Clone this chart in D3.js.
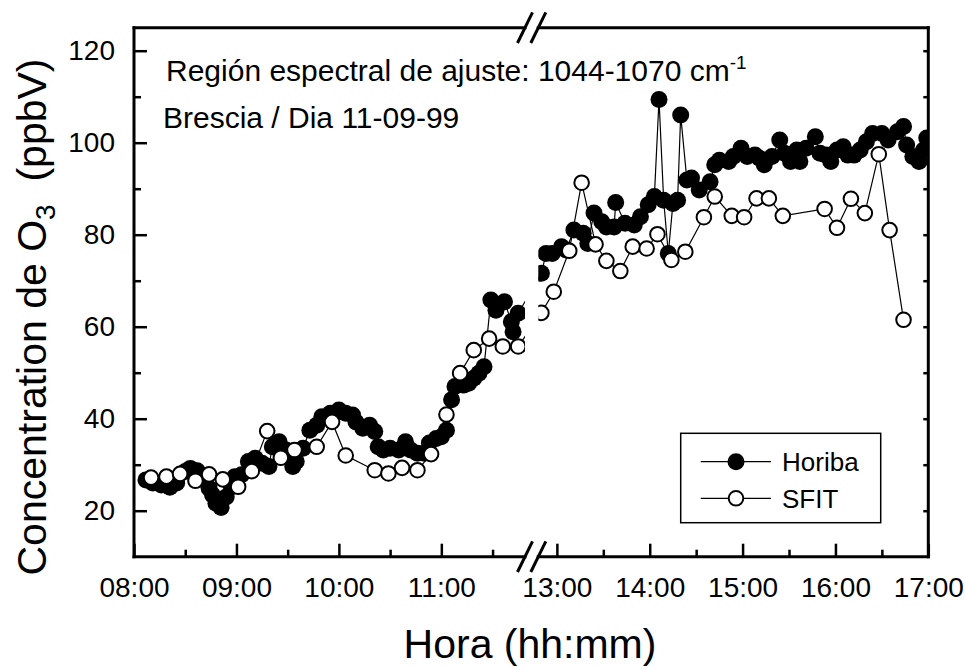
<!DOCTYPE html>
<html><head><meta charset="utf-8">
<script src="https://cdn.jsdelivr.net/npm/d3@7/dist/d3.min.js"></script>
<style>
body{margin:0;background:#fff;}
text{font-family:"Liberation Sans",Arial,sans-serif;fill:#000;}
</style></head><body>
<svg id="chart" width="966" height="667"></svg>
<script>
// Ozone at Brescia, 11-09-99: Horiba analyser vs. SFIT retrieval
const horibaTimes = ["08:07","08:11","08:16","08:21","08:25","08:30","08:33","08:37","08:41","08:44",
  "08:46","08:48","08:51","08:54","08:57","08:59","09:03","09:07","09:11","09:15",
  "09:19","09:21","09:25","09:29","09:33","09:35","09:39","09:43","09:47","09:50",
  "09:55","10:00","10:04","10:08","10:10","10:14","10:18","10:21","10:23","10:26",
  "10:30","10:35","10:39","10:42","10:46","10:50","10:53","10:57","11:00","11:03",
  "11:06","11:08","11:13","11:16","11:19","11:22","11:25","11:29","11:32","11:37",
  "11:41","11:42","11:45",
  "12:50","12:53","12:57","13:03","13:06","13:11","13:17","13:20","13:24","13:29",
  "13:32","13:37","13:38","13:44","13:50","13:54","13:59","14:03","14:06","14:09",
  "14:12","14:15","14:18","14:20","14:24","14:27","14:32","14:39","14:42","14:45",
  "14:51","14:54","14:59","15:03","15:08","15:11","15:14","15:19","15:24","15:27",
  "15:31","15:35","15:37","15:41","15:47","15:50","15:54","15:57","16:01","16:05",
  "16:08","16:12","16:16","16:20","16:24","16:30","16:34","16:40","16:44","16:46",
  "16:50","16:54","16:57","16:59"];
const horibaValues = [26.7,26.0,25.6,25.1,26.0,28.5,29.2,28.7,26.7,24.9,
  23.4,21.6,20.7,23.0,25.2,27.4,27.8,30.7,31.4,30.3,
  29.6,33.9,35.0,33.2,29.6,30.7,33.6,37.5,38.6,40.4,
  41.2,41.9,41.2,40.8,39.3,37.9,38.6,37.2,33.9,33.2,
  33.6,33.2,35.0,33.2,32.5,32.5,34.7,35.7,36.1,37.5,
  44.1,47.0,47.3,47.7,48.8,49.9,51.3,65.8,63.6,65.4,
  61.1,58.9,62.9,
  71.6,75.9,75.9,77.4,76.7,81.0,80.3,78.1,84.7,82.8,
  81.7,81.7,87.0,82.5,82.1,83.9,86.5,88.3,109.4,87.5,
  75.9,86.8,87.5,106.0,91.9,92.3,89.7,91.5,95.2,96.2,
  95.9,97.0,98.8,97.0,97.3,96.6,95.2,97.0,100.6,97.7,
  95.9,98.4,95.9,98.8,101.3,97.7,97.3,95.9,98.4,99.1,
  97.3,97.3,98.4,100.2,102.0,102.0,100.6,102.4,103.5,99.5,
  97.0,95.9,98.4,101.0];

const sfitTimes = ["08:10","08:19","08:27","08:36","08:44","08:52","09:01","09:09","09:18","09:26",
  "09:34","09:47","09:56","10:04","10:21","10:29","10:37","10:46","10:54","11:03",
  "11:11","11:19","11:28","11:36","11:45",
  "12:50","12:58","13:08","13:16","13:25","13:32","13:41","13:49","13:58","14:05",
  "14:14","14:23","14:35","14:42","14:53","15:01","15:09","15:17","15:26","15:53",
  "16:01","16:10","16:19","16:28","16:35","16:44"];
const sfitValues = [27.2,27.4,28.0,26.5,27.9,26.8,25.2,28.6,37.3,31.5,
  33.2,33.9,39.3,32.0,28.8,28.1,29.3,28.8,32.3,40.9,
  49.9,54.9,57.4,55.7,55.7,
  63.0,67.6,76.5,91.3,77.9,74.3,72.1,77.4,77.0,80.1,
  74.5,76.3,83.8,88.3,84.1,83.8,87.9,87.9,84.1,85.6,
  81.5,87.8,84.7,97.5,81.0,61.5];

// broken time axis: two linear pieces
const leftDomain = ["08:00","11:49"];
const rightDomain = ["12:48","17:00"];
const leftMajor = ["08:00","09:00","10:00","11:00"];
const leftMinor = ["08:30","09:30","10:30","11:30"];
const rightMajor = ["13:00","14:00","15:00","16:00","17:00"];
const rightMinor = ["13:30","14:30","15:30","16:30"];
const yMajor = [20,40,60,80,100,120];
const yMinor = [30,50,70,90,110];
const yDomain = [10,125];

const hrs = s => { const [h,m] = s.split(":").map(Number); return h + m/60; };

const svg = d3.select("#chart");
svg.append("rect").attr("width",966).attr("height",667).attr("fill","#fff");

const P = {left:134, right:928.3, top:27.7, bottom:556.7, gapL:525, gapR:538.3};

const xL = d3.scaleLinear().domain(leftDomain.map(hrs)).range([P.left, P.gapL]);
const xR = d3.scaleLinear().domain(rightDomain.map(hrs)).range([P.gapR, P.right]);
const split = (hrs(leftDomain[1]) + hrs(rightDomain[0])) / 2;
const xPos = t => t <= split ? xL(t) : xR(t);
const y = d3.scaleLinear().domain(yDomain).range([P.bottom, P.top]);

const defs = svg.append("defs");
defs.append("clipPath").attr("id","clipL").append("rect")
  .attr("x",P.left).attr("y",P.top).attr("width",P.gapL-P.left).attr("height",P.bottom-P.top);
defs.append("clipPath").attr("id","clipR").append("rect")
  .attr("x",P.gapR).attr("y",P.top).attr("width",P.right-P.gapR).attr("height",P.bottom-P.top);

const horiba = horibaTimes.map((t,i)=>({t:hrs(t), v:horibaValues[i]}));
const sfit = sfitTimes.map((t,i)=>({t:hrs(t), v:sfitValues[i]}));

const line = d3.line().x(d=>xPos(d.t)).y(d=>y(d.v));
const R_FILL = 8.5, R_OPEN = 7.3;

function drawSeries(data, filled){
  ["clipL","clipR"].forEach(c=>{
    const g = svg.append("g").attr("clip-path",`url(#${c})`);
    g.append("path").datum(data).attr("d",line)
      .attr("fill","none").attr("stroke","#000").attr("stroke-width",1.2);
    g.selectAll("circle").data(data).join("circle")
      .attr("cx",d=>xPos(d.t)).attr("cy",d=>y(d.v))
      .attr("r", filled ? R_FILL : R_OPEN)
      .attr("fill", filled ? "#000" : "#fff")
      .attr("stroke","#000").attr("stroke-width", filled ? 0 : 2);
  });
}
drawSeries(horiba, true);
drawSeries(sfit, false);

// axes (ticks point inward)
function tickAxis(axis, vals, size, pad, fmt){
  return axis.tickValues(vals).tickSizeInner(-size).tickSizeOuter(0).tickPadding(pad)
    .tickFormat(fmt);
}
const fmtT = t => { const h = Math.floor(t+1e-6), m = Math.round((t-h)*60); return String(h).padStart(2,"0")+":"+String(m).padStart(2,"0"); };
const gx = svg.append("g").attr("transform",`translate(0,${P.bottom})`);
gx.append("g").call(tickAxis(d3.axisBottom(xL), leftMajor.map(hrs), 13, 20, fmtT));
gx.append("g").call(tickAxis(d3.axisBottom(xL), leftMinor.map(hrs), 7, 20, ()=>""));
gx.append("g").call(tickAxis(d3.axisBottom(xR), rightMajor.map(hrs), 13, 20, fmtT));
gx.append("g").call(tickAxis(d3.axisBottom(xR), rightMinor.map(hrs), 7, 20, ()=>""));
const gy = svg.append("g").attr("transform",`translate(${P.left},0)`);
gy.append("g").call(tickAxis(d3.axisLeft(y), yMajor, 13, 19, d3.format("d")));
gy.append("g").call(tickAxis(d3.axisLeft(y), yMinor, 7, 19, ()=>""));
// short mirror ticks on the right edge
const gyr = svg.append("g").attr("transform",`translate(${P.right},0)`);
gyr.append("g").call(tickAxis(d3.axisRight(y), yMajor.concat(yMinor), 5, 0, ()=>""));
svg.selectAll(".domain").remove();
svg.selectAll(".tick line").attr("stroke","#000").attr("stroke-width",2.5);
svg.selectAll(".tick text").style("font-size","28px").attr("fill","#000");

// frame with axis break
const frame = svg.append("g").attr("stroke","#000").attr("stroke-width",3).attr("stroke-linecap","square");
[[P.left,P.top,P.left,P.bottom],[P.right,P.top,P.right,P.bottom],
 [P.left,P.bottom,P.gapL,P.bottom],[P.gapR,P.bottom,P.right,P.bottom],
 [P.left,P.top,P.gapL,P.top],[P.gapR,P.top,P.right,P.top]].forEach(([a,b,c,d])=>
  frame.append("line").attr("x1",a).attr("y1",b).attr("x2",c).attr("y2",d));
[P.top,P.bottom].forEach(yy=>[P.gapL,P.gapR].forEach(xx=>
  svg.append("line").attr("x1",xx-7.5).attr("y1",yy+15.3).attr("x2",xx+7.5).attr("y2",yy-15.3)
    .attr("stroke","#000").attr("stroke-width",3)));

// titles
svg.append("text").attr("x",530).attr("y",658).attr("text-anchor","middle")
  .style("font-size","41px").text("Hora (hh:mm)");
const yt = svg.append("text").attr("transform","translate(46,317) rotate(-90)")
  .attr("text-anchor","middle").style("font-size","41px");
yt.append("tspan").text("Concentration de O");
yt.append("tspan").attr("dy",9).style("font-size","28px").text("3");
yt.append("tspan").attr("dy",-9).text("\u00a0\u00a0(ppbV)");

// annotations
const a1 = svg.append("text").attr("x",166).attr("y",81).style("font-size","30px");
a1.append("tspan").text("Región espectral de ajuste: 1044-1070 cm");
a1.append("tspan").attr("dy",-12).style("font-size","19px").text("-1");
svg.append("text").attr("x",163).attr("y",128).style("font-size","30px").text("Brescia / Dia 11-09-99");

// legend
const lg = svg.append("g");
lg.append("rect").attr("x",680.7).attr("y",433.3).attr("width",200).attr("height",89.4)
  .attr("fill","#fff").attr("stroke","#000").attr("stroke-width",1.5);
[["Horiba",true,461.7],["SFIT",false,498.3]].forEach(([name,filled,yy])=>{
  lg.append("line").attr("x1",700.7).attr("x2",771).attr("y1",yy).attr("y2",yy)
    .attr("stroke","#000").attr("stroke-width",1.2);
  lg.append("circle").attr("cx",736).attr("cy",yy).attr("r",filled?R_FILL:R_OPEN)
    .attr("fill",filled?"#000":"#fff").attr("stroke","#000").attr("stroke-width",filled?0:2);
  lg.append("text").attr("x",782).attr("y",yy).attr("dy","0.36em").style("font-size","26px").text(name);
});
</script></body></html>
